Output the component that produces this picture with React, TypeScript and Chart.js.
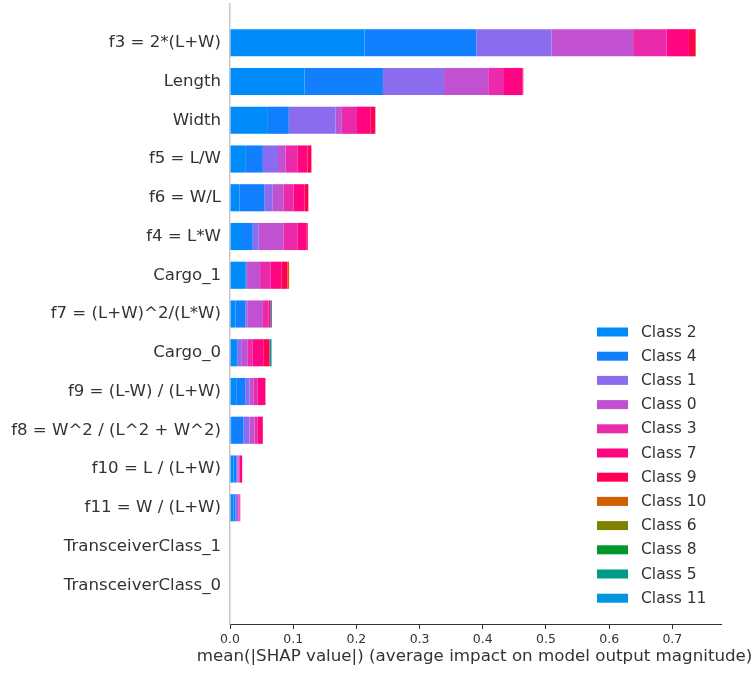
import React, { useEffect, useRef } from "react";
import { Chart, registerables } from "chart.js";

Chart.register(...registerables);

const FONT = "'DejaVu Sans', sans-serif";

// features, top to bottom
const features = [
  "f3 = 2*(L+W)",
  "Length",
  "Width",
  "f5 = L/W",
  "f6 = W/L",
  "f4 = L*W",
  "Cargo_1",
  "f7 = (L+W)^2/(L*W)",
  "Cargo_0",
  "f9 = (L-W) / (L+W)",
  "f8 = W^2 / (L^2 + W^2)",
  "f10 = L / (L+W)",
  "f11 = W / (L+W)",
  "TransceiverClass_1",
  "TransceiverClass_0",
];

const classNames = [
  "Class 2", "Class 4", "Class 1", "Class 0", "Class 3", "Class 7",
  "Class 9", "Class 10", "Class 6", "Class 8", "Class 5", "Class 11",
];

const classColors = [
  "#008bfb", "#127fff", "#8b6cef", "#c151d1", "#ea2aaa", "#ff0582",
  "#ff0052", "#d35f00", "#7f8200", "#00982c", "#009b8a", "#0095dc",
];

// mean |SHAP| per class, per feature (same order as features)
const class2 = [0.213, 0.118, 0.060, 0.024, 0.015, 0.019, 0.025, 0.0087, 0.011, 0.0098, 0.003, 0.0055, 0.0055, 0, 0];
const class4 = [0.177, 0.124, 0.033, 0.028, 0.0396, 0.017, 0.0005, 0.0154, 0.0004, 0.0143, 0.0184, 0.0043, 0.003, 0, 0];
const class1 = [0.119, 0.0966, 0.074, 0.024, 0.013, 0.0095, 0.0015, 0.0032, 0.0063, 0.0068, 0.0095, 0.002, 0.0027, 0, 0];
const class0 = [0.129, 0.070, 0.010, 0.012, 0.017, 0.039, 0.0206, 0.0237, 0.0105, 0.0068, 0.0079, 0.0016, 0.0025, 0, 0];
const class3 = [0.053, 0.025, 0.024, 0.0185, 0.016, 0.022, 0.017, 0.010, 0.0079, 0.0063, 0.0052, 0.0016, 0.0015, 0, 0];
const class7 = [0.034, 0.029, 0.021, 0.016, 0.0174, 0.015, 0.0167, 0.0032, 0.0174, 0.0117, 0.0079, 0.0043, 0.001, 0, 0];
const class9 = [0.011, 0.0015, 0.008, 0.0063, 0.006, 0.0016, 0.0095, 0.0005, 0.0091, 0.0005, 0.0003, 0, 0, 0, 0];
const class10 = [0.0012, 0, 0, 0, 0, 0, 0.0027, 0, 0, 0, 0, 0, 0, 0, 0];
const class6 = [0, 0, 0, 0, 0, 0, 0, 0, 0, 0, 0, 0, 0, 0, 0];
const class8 = [0, 0, 0, 0, 0, 0, 0, 0, 0, 0, 0, 0, 0, 0, 0];
const class5 = [0, 0, 0, 0, 0, 0, 0, 0.0016, 0.0031, 0, 0, 0, 0, 0, 0];
const class11 = [0, 0, 0, 0, 0, 0, 0, 0, 0, 0, 0, 0, 0, 0, 0];

const xTicks = [0, 0.1, 0.2, 0.3, 0.4, 0.5, 0.6, 0.7];
const xTitle = "mean(|SHAP value|) (average impact on model output magnitude)";

const legendPlugin = {
  id: "insideLegend",
  afterDraw(chart: any) {
    const { ctx, chartArea } = chart;
    const x0 = chartArea.right - 124;
    const y0 = chartArea.bottom - 292;
    ctx.save();
    ctx.font = `15.5px ${FONT}`;
    ctx.textBaseline = "middle";
    ctx.textAlign = "left";
    chart.data.datasets.forEach((ds: any, i: number) => {
      const y = y0 + i * 24.2;
      ctx.fillStyle = ds.backgroundColor;
      ctx.fillRect(x0, y - 4.5, 31, 9);
      ctx.fillStyle = "#333333";
      ctx.fillText(ds.label, x0 + 44, y + 0.5);
    });
    // x-axis title (may extend past the plot area, like the original)
    ctx.font = `16.7px ${FONT}`;
    ctx.textAlign = "center";
    ctx.fillText(xTitle, (chartArea.left + chartArea.right) / 2 - 1, chartArea.bottom + 33);
    ctx.restore();
  },
};

export default function App() {
  const ref = useRef<HTMLCanvasElement>(null);

  useEffect(() => {
    if (!ref.current) return;
    const series = [class2, class4, class1, class0, class3, class7, class9, class10, class6, class8, class5, class11];
    const labels = ["", ...features, ""];
    const pad = (a: number[]) => [null, ...a, null];

    const chart = new Chart(ref.current, {
      type: "bar",
      data: {
        labels,
        datasets: series.map((s, i) => ({
          label: classNames[i],
          data: pad(s),
          backgroundColor: classColors[i],
          borderWidth: 0,
          barPercentage: 0.7,
          categoryPercentage: 1,
        })),
      },
      options: {
        indexAxis: "y",
        responsive: false,
        animation: false,
        layout: { padding: { top: 4, right: 34, left: 0, bottom: 0 } },
        plugins: { legend: { display: false }, tooltip: { enabled: false } },
        scales: {
          x: {
            type: "linear",
            stacked: true,
            min: 0,
            max: 0.777,
            afterBuildTicks: (s: any) => {
              s.ticks = xTicks.map((v) => ({ value: v }));
            },
            ticks: {
              color: "#333333",
              font: { family: FONT, size: 12.5 },
              padding: 3,
              callback: (v: any) => Number(v).toFixed(1),
            },
            grid: { drawOnChartArea: false, drawTicks: true, tickLength: 5, color: "#333333" },
            border: { display: true, color: "#333333", width: 1 },
            title: { display: false },
            afterFit: (s: any) => {
              s.height = 51;
              s.paddingLeft = 0;
              s.paddingRight = 0;
            },
          } as any,
          y: {
            type: "category",
            stacked: true,
            offset: false,
            grid: { display: false, drawTicks: false },
            border: { display: true, color: "#c8c8c8", width: 1.5 },
            ticks: {
              color: "#333333",
              font: { family: FONT, size: 16.6 },
              padding: 9,
              autoSkip: false,
            },
            afterFit: (s: any) => {
              s.width = 230;
              s.paddingTop = 0;
              s.paddingBottom = 0;
            },
          } as any,
        },
      },
      plugins: [legendPlugin],
    });
    return () => chart.destroy();
  }, []);

  return (
    <div style={{ position: "fixed", left: 0, top: 0, width: 755, height: 675, background: "#ffffff" }}>
      <canvas ref={ref} width={755} height={675} />
    </div>
  );
}
